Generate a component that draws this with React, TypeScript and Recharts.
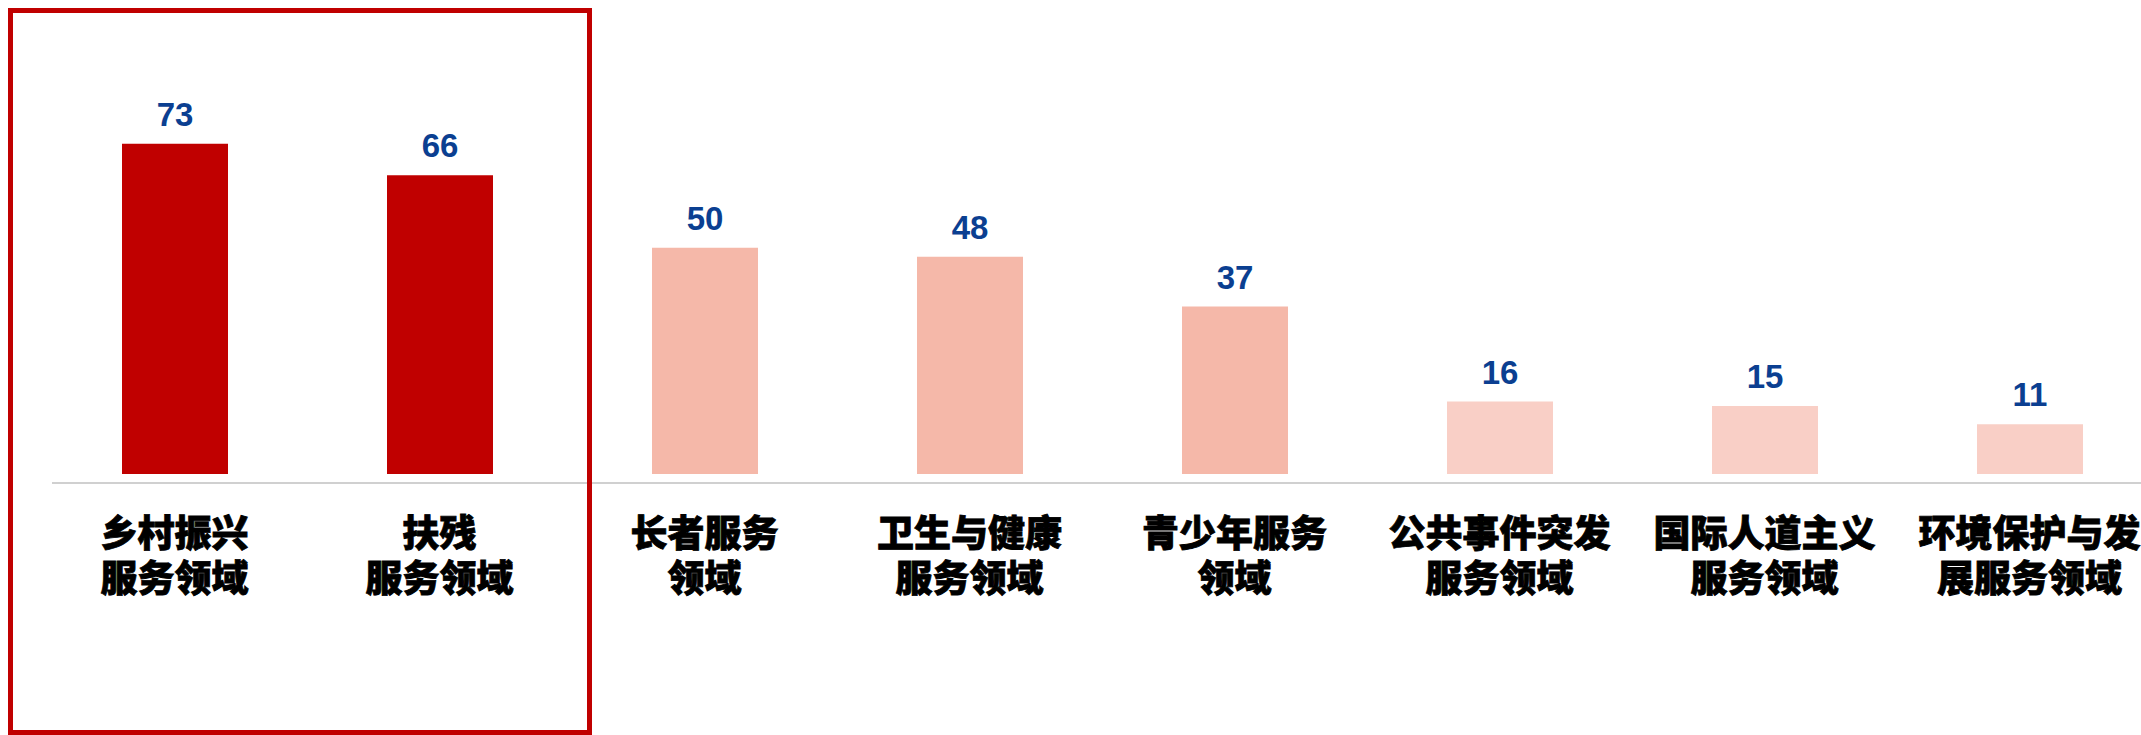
import React from 'react';
import { BarChart, Bar, XAxis, YAxis, Cell, LabelList } from 'recharts';

// 各服务领域（两行标签用 \n 分隔）
const categories = [
  '乡村振兴\n服务领域',
  '扶残\n服务领域',
  '长者服务\n领域',
  '卫生与健康\n服务领域',
  '青少年服务\n领域',
  '公共事件突发\n服务领域',
  '国际人道主义\n服务领域',
  '环境保护与发\n展服务领域',
];

const counts = [73, 66, 50, 48, 37, 16, 15, 11];

const barColors = ['#C00000', '#C00000', '#F5B8A9', '#F5B8A9', '#F5B8A9', '#F9CFC6', '#F9CFC6', '#F9CFC6'];

const chartData = categories.map((name, i) => ({ name, value: counts[i] }));

const CategoryTick = (props: any) => {
  const { x, y, payload } = props;
  const lines = String(payload.value).split('\n');
  return (
    <text
      x={x}
      y={y}
      textAnchor="middle"
      fill="#000"
      stroke="#000"
      strokeWidth={0.8}
      fontSize={37}
      fontWeight={900}
      fontFamily='"Noto Sans CJK SC", sans-serif'
    >
      {lines.map((line, i) => (
        <tspan key={i} x={x} y={y + 64 + i * 45}>
          {line}
        </tspan>
      ))}
    </text>
  );
};

export default function App() {
  return (
    <div
      style={{
        position: 'fixed',
        left: 0,
        top: 0,
        width: 2141,
        height: 735,
        overflow: 'hidden',
        background: '#fff',
      }}
    >
      <BarChart
        width={2162}
        height={735}
        data={chartData}
        margin={{ top: 112, right: 0, left: 52, bottom: 222 }}
      >
        <XAxis
          dataKey="name"
          height={30}
          interval={0}
          padding={{ left: -10, right: 0 }}
          axisLine={{ stroke: '#D0D0D0', strokeWidth: 2 }}
          tickLine={false}
          tickSize={0}
          tickMargin={0}
          tick={<CategoryTick />}
        />
        <YAxis hide domain={[-2, 80]} allowDataOverflow />
        <Bar dataKey="value" barSize={106} isAnimationActive={false}>
          {chartData.map((_, i) => (
            <Cell key={i} fill={barColors[i]} />
          ))}
          <LabelList
            dataKey="value"
            position="top"
            offset={18}
            fill="#0B3F91"
            fontSize={33}
            fontWeight={700}
            fontFamily='"Liberation Sans", Arial, sans-serif'
          />
        </Bar>
      </BarChart>
      <div
        style={{
          position: 'absolute',
          left: 8,
          top: 8,
          width: 584,
          height: 727,
          boxSizing: 'border-box',
          border: '5px solid #C00000',
          pointerEvents: 'none',
        }}
      />
    </div>
  );
}
